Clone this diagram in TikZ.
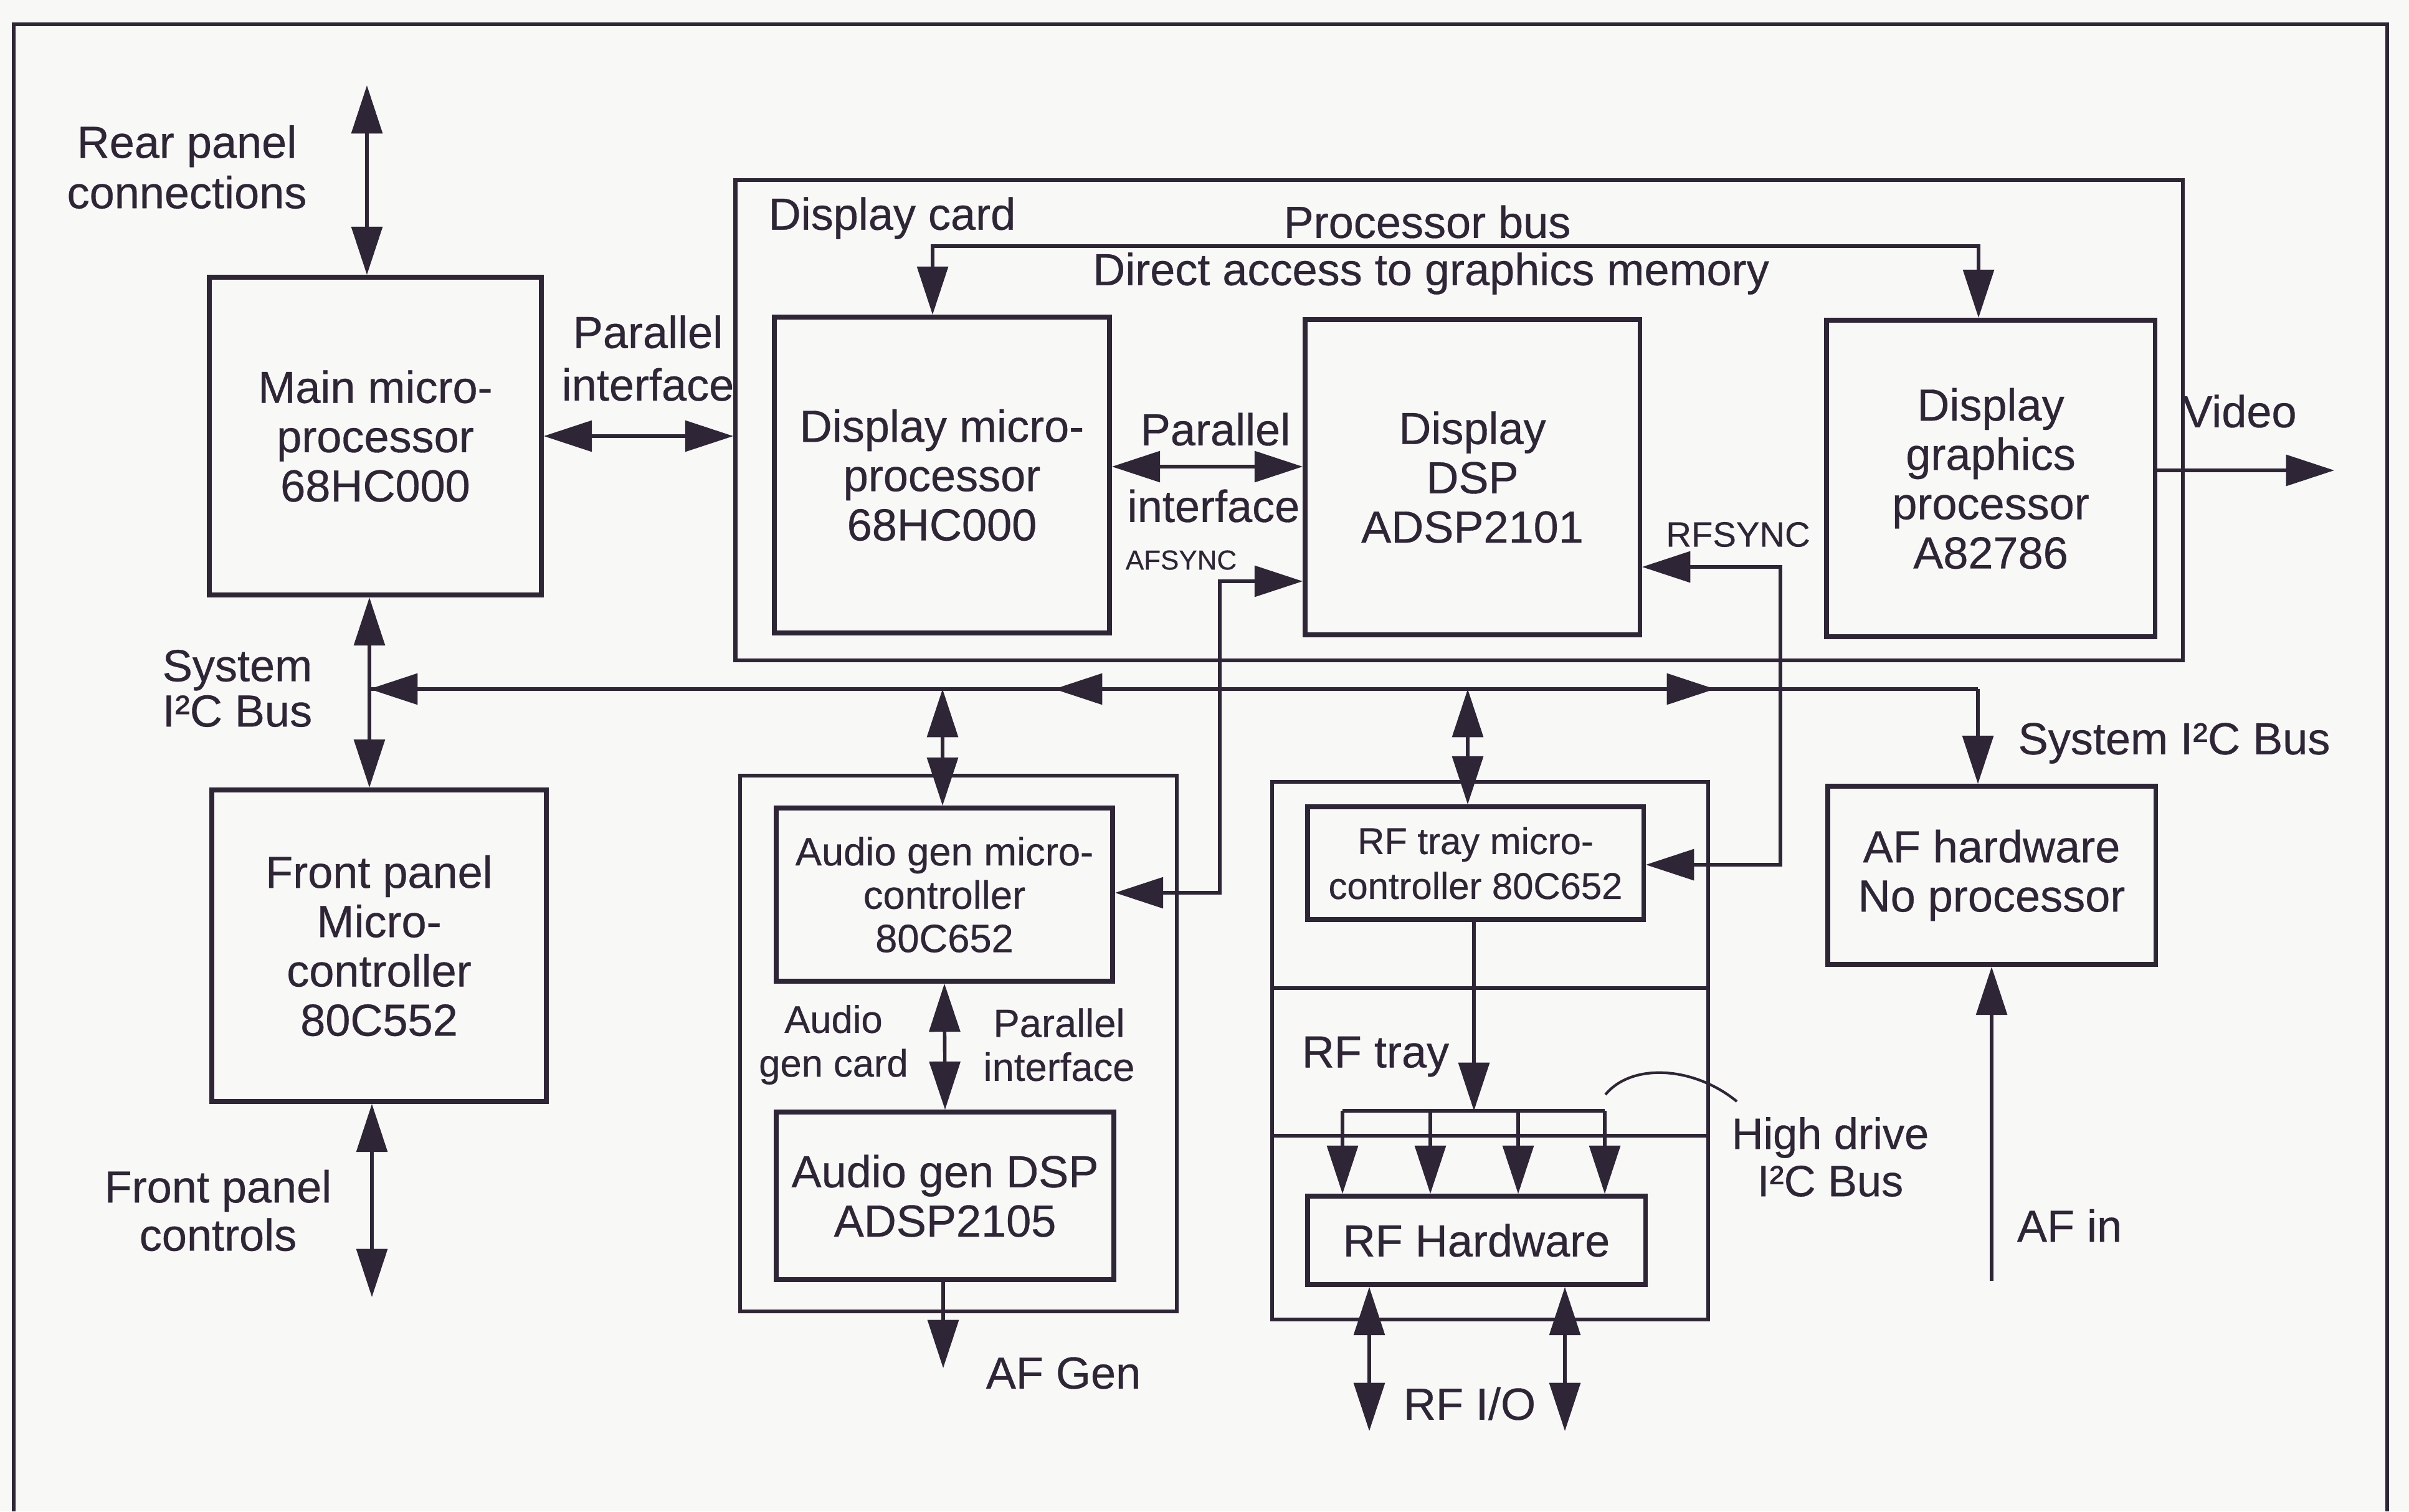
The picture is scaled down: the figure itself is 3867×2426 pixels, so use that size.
\documentclass[tikz,border=0pt]{standalone}
\usepackage{fontspec}
\setmainfont{Liberation Sans}[FakeBold=0.45]
\usetikzlibrary{arrows.meta}
\definecolor{ink}{HTML}{2E2536}
\definecolor{paper}{HTML}{F8F8F6}
\newcommand\fsA{\fontsize{20.5}{22.5}\selectfont}
\newcommand\fsB{\fontsize{18}{19.8}\selectfont}
\newcommand\fsC{\fontsize{17}{20.5}\selectfont}
\begin{document}
\begin{tikzpicture}[x=0.01cm,y=-0.01cm,
  every node/.style={text=ink},
  >={Triangle[length=22pt,width=14pt]},
  box/.style={draw=ink, line width=2.1pt, rectangle, inner sep=0pt, align=center, font=\fsA},
  cardframe/.style={draw=ink, line width=1.8pt, rectangle, inner sep=0pt},
  conn/.style={draw=ink, line width=1.6pt},
  lbl/.style={align=center, font=\fsA, inner sep=0pt},
]
\fill[paper] (0,0) rectangle (3867,2426);
\useasboundingbox (0,0) rectangle (3867,2426);
% outer frame
\draw[ink, line width=1.7pt] (22,2426) -- (22,39) -- (3832,39) -- (3832,2426);

% frames
\node[cardframe, minimum width=23.22cm, minimum height=7.71cm] (dcard) at (2342,674.5) {};
\node[cardframe, minimum width=7.01cm, minimum height=8.60cm] (afgen) at (1538.5,1675) {};
\node[cardframe, minimum width=7.00cm, minimum height=8.63cm] (rftray) at (2392,1686.5) {};
\coordinate (dv1) at (0,1586);
\coordinate (dv2) at (0,1823);
\draw[ink, line width=1.8pt] (rftray.west |- dv1) -- (rftray.east |- dv1);
\draw[ink, line width=1.8pt] (rftray.west |- dv2) -- (rftray.east |- dv2);

% boxes
\node[box, minimum width=5.33cm, minimum height=5.10cm] (main) at (602.5,700) {Main micro-\\processor\\68HC000};
\node[box, minimum width=5.37cm, minimum height=5.00cm] (front) at (608.5,1518) {Front panel\\Micro-\\controller\\80C552};
\node[box, minimum width=5.38cm, minimum height=5.07cm] (dmicro) at (1512,762.5) {Display micro-\\processor\\68HC000};
\node[box, minimum width=5.37cm, minimum height=5.06cm] (dsp) at (2363.5,766) {Display\\DSP\\ADSP2101};
\node[box, minimum width=5.27cm, minimum height=5.08cm] (gfx) at (3195.5,768) {Display\\graphics\\processor\\A82786};
\node[box, font=\fsB, minimum width=5.40cm, minimum height=2.78cm] (amicro) at (1516,1436) {Audio gen micro-\\controller\\80C652};
\node[box, minimum width=5.42cm, minimum height=2.69cm] (adsp) at (1517,1919.5) {Audio gen DSP\\ADSP2105};
\node[box, font=\fsC, minimum width=5.39cm, minimum height=1.81cm] (rfmicro) at (2368.5,1385.5) {RF tray micro-\\controller 80C652};
\node[box, minimum width=5.42cm, minimum height=1.42cm] (rfhw) at (2370,1991) {RF Hardware};
\node[box, minimum width=5.26cm, minimum height=2.86cm] (afhw) at (3197,1405) {AF hardware\\No processor};

% labels
\node[lbl, font=\fontsize{20.5}{23}\selectfont] (lrear) at (300,268) {Rear panel\\connections};
\node[lbl, font=\fontsize{20.5}{24}\selectfont] (lpar1) at (1040,575) {Parallel\\interface};
\node[lbl, font=\fontsize{20.5}{20.7}\selectfont] (lsys) at (381,1105) {System\\I²C Bus};
\node[lbl, font=\fontsize{20.5}{22}\selectfont] (lfpc) at (350,1943) {Front panel\\controls};
\node[lbl] (ldcard) at (1432,350) {Display card};
\node[lbl] (lproc) at (2291,356) {Processor bus};
\node[lbl] (ldirect) at (2297,439) {Direct access to graphics memory};
\node[lbl] (lpar2a) at (1951,689) {Parallel};
\node[lbl] (lpar2b) at (1948,812) {interface};
\node[lbl, font=\fontsize{12.5}{14}\selectfont] (lafsync) at (1896,899) {AFSYNC};
\node[lbl, font=\fontsize{16}{18}\selectfont] (lrfsync) at (2790,858) {RFSYNC};
\node[lbl] (lvideo) at (3595,660) {Video};
\node[lbl] (lsys2) at (3490,1193) {System I²C Bus};
\node[lbl, font=\fontsize{17.5}{20}\selectfont] (laudio) at (1338,1677) {Audio\\gen card};
\node[lbl, font=\fontsize{18}{20}\selectfont] (lpar3) at (1700,1677) {Parallel\\interface};
\node[lbl] (lafgen) at (1707,2204) {AF Gen};
\node[lbl] (lrftray) at (2208,1696) {RF tray};
\node[lbl, font=\fontsize{20}{21.6}\selectfont] (lhigh) at (2938,1857) {High drive\\I²C Bus};
\node[lbl] (lrfio) at (2359,2253) {RF I/O};
\node[lbl] (lafin) at (3322,1967) {AF in};

% coordinates
\coordinate (reartop) at (589,137);
\coordinate (sysx) at (593,1000);
\coordinate (busL) at (593,1106);
\coordinate (busR) at (3175,1106);
\coordinate (bm1a) at (1780,1106);
\coordinate (bm1) at (1692,1106);
\coordinate (bm2a) at (2660,1106);
\coordinate (bm2) at (2753,1106);
\coordinate (bj1) at (1513,1106);
\coordinate (bj2) at (2356,1106);
\coordinate (da1) at (1497,395);
\coordinate (da2) at (3176,395);
\coordinate (pp) at (1900,749);
\coordinate (af1) at (1958,933);
\coordinate (af2) at (1958,1433);
\coordinate (rf1) at (2858,910);
\coordinate (rf2) at (2858,1388);
\coordinate (vid) at (3747,755);
\coordinate (afout) at (1514,2196);
\coordinate (hd) at (2366,1783);
\coordinate (hdL) at (2155,1783);
\coordinate (hdR) at (2576,1783);
\coordinate (hd1) at (2155,1783);
\coordinate (hd2) at (2296,1783);
\coordinate (hd3) at (2437,1783);
\coordinate (hd4) at (2576,1783);
\coordinate (io1) at (2198,2297);
\coordinate (io2) at (2512,2297);
\coordinate (afin) at (3197,2056);
\coordinate (fpc) at (597,2082);
\coordinate (arcA) at (2577,1757);
\coordinate (arcB) at (2788,1768);

% connectors
\draw[conn,<->] (reartop) -- (main.north -| reartop);
\draw[conn,<->] (main.east) -- (dcard.west |- main.east);
\draw[conn,<->] (main.south -| sysx) -- (front.north -| sysx);
\draw[conn] (busR) -- (busL);
\draw[conn,->] (bj1) -- (busL);
\draw[conn,->] (bm1a) -- (bm1);
\draw[conn,->] (bm2a) -- (bm2);
\draw[conn,->] (busR) -- (afhw.north -| busR);
\draw[conn,<->] (bj1) -- (amicro.north -| bj1);
\draw[conn,<->] (bj2) -- (rfmicro.north -| bj2);
\draw[conn,<->] (dmicro.north -| da1) -- (da1) -- (da2) -- (gfx.north -| da2);
\draw[conn,<->] (dmicro.east |- pp) -- (dsp.west |- pp);
\draw[conn,<->] (amicro.east |- af2) -- (af2) -- (af1) -- (dsp.west |- af1);
\draw[conn,<->] (rfmicro.east |- rf2) -- (rf2) -- (rf1) -- (dsp.east |- rf1);
\draw[conn,->] (gfx.east |- vid) -- (vid);
\draw[conn,<->] (amicro.south) -- (adsp.north);
\draw[conn,->] (adsp.south -| afout) -- (afout);
\draw[conn,->] (rfmicro.south -| hd) -- (hd);
\draw[conn] (hdL) -- (hdR);
\draw[conn,->] (hd1) -- (rfhw.north -| hd1);
\draw[conn,->] (hd2) -- (rfhw.north -| hd2);
\draw[conn,->] (hd3) -- (rfhw.north -| hd3);
\draw[conn,->] (hd4) -- (rfhw.north -| hd4);
\draw[ink, line width=1.2pt] (arcA) .. controls (2620,1705) and (2720,1712) .. (arcB);
\draw[conn,<->] (rfhw.south -| io1) -- (io1);
\draw[conn,<->] (rfhw.south -| io2) -- (io2);
\draw[conn,->] (afin) -- (afhw.south -| afin);
\draw[conn,<->] (front.south -| fpc) -- (fpc);
\end{tikzpicture}
\end{document}
